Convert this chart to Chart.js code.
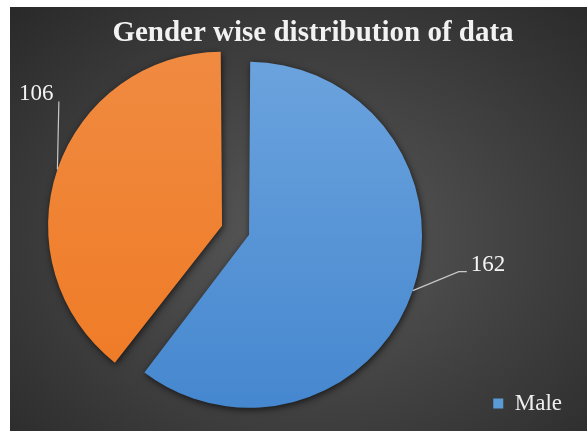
<!DOCTYPE html>
<html>
<head>
<meta charset="utf-8">
<script src="https://cdn.jsdelivr.net/npm/chart.js@4"></script>
<style>
  html, body { margin: 0; padding: 0; background: #fff; overflow: hidden; }
  .frame {
    position: absolute; left: 10px; top: 7px; width: 577px; height: 424px; overflow: hidden;
    background: radial-gradient(ellipse at 52% 55%, #5a5a5a 0%, #414141 50%, #292929 100%);
  }
  .chart-box { position: absolute; left: 0; top: -20px; width: 577px; height: 492px; }
</style>
</head>
<body>
<div class="frame"><div class="chart-box"><canvas id="genderChart"></canvas></div></div>
<script>
// data
const genders = ['Male', 'Female'];
const counts = [162, 106];

// [light, dark] fill per slice
const sliceColors = [['#6aa2dd', '#4587cf'], ['#f08a40', '#ef7a24']];
const flatColors = ['#5b9bd5', '#ed7d31'];
const serif = "'Liberation Serif', 'Times New Roman', serif";

// leader line + label placement, relative to the point on the slice edge
const labelPlacement = [
    { elbow: [46, -19], end: [54, -19], text: [58, -20], align: 'left' },
    { elbow: [1.5, -68], end: [1.5, -68], text: [-4, -70], align: 'right' }
];

function sliceFill(context) {
    const chart = context.chart;
    const area = chart.chartArea;
    const pair = sliceColors[context.dataIndex] || sliceColors[0];
    if (!area) return pair[0];
    const g = chart.ctx.createLinearGradient(0, area.top + 80, 0, area.bottom - 70);
    g.addColorStop(0, pair[0]);
    g.addColorStop(1, pair[1]);
    return g;
}

// Excel-like outer shadow round the slices
const sliceShadow = {
    id: 'sliceShadow',
    beforeDatasetsDraw(chart) {
        const ctx = chart.ctx;
        ctx.save();
        ctx.shadowColor = 'rgba(0, 0, 0, 0.65)';
        ctx.shadowBlur = 7;
        ctx.shadowOffsetX = 1;
        ctx.shadowOffsetY = 2;
    },
    afterDatasetsDraw(chart) {
        chart.ctx.restore();
    }
};

// value labels with leader lines
const leaderLabels = {
    id: 'leaderLabels',
    afterDatasetsDraw(chart) {
        const ctx = chart.ctx;
        const meta = chart.getDatasetMeta(0);
        ctx.save();
        ctx.strokeStyle = '#c8c8c8';
        ctx.lineWidth = 1.2;
        ctx.fillStyle = '#f4f4f4';
        ctx.font = '23px ' + serif;
        ctx.textBaseline = 'alphabetic';
        meta.data.forEach((arc, i) => {
            const p = arc.getProps(['x', 'y', 'startAngle', 'endAngle', 'outerRadius', 'circumference'], true);
            const mid = (p.startAngle + p.endAngle) / 2;
            // same shift / radius growth the arc element applies for its offset
            const shift = (arc.options.offset || 0) / 4;
            const fix = 1 - Math.sin(Math.min(Math.PI, p.circumference));
            const r = p.outerRadius + shift * fix + shift;
            const ax = p.x + Math.cos(mid) * r;
            const ay = p.y + Math.sin(mid) * r;
            const place = labelPlacement[i];
            ctx.beginPath();
            ctx.moveTo(ax, ay);
            ctx.lineTo(ax + place.elbow[0], ay + place.elbow[1]);
            ctx.lineTo(ax + place.end[0], ay + place.end[1]);
            ctx.stroke();
            ctx.textAlign = place.align;
            ctx.fillText(String(counts[i]), ax + place.text[0], ay + place.text[1]);
        });
        ctx.restore();
    }
};

const ctx = document.getElementById('genderChart').getContext('2d');
new Chart(ctx, {
    type: 'pie',
    data: {
        labels: genders,
        datasets: [{
            data: counts,
            backgroundColor: sliceFill,
            borderWidth: 0,
            offset: [29.2, 84.8],
            clip: false
        }]
    },
    options: {
        responsive: true,
        maintainAspectRatio: false,
        animation: false,
        events: [],
        radius: 165.7,
        layout: { padding: { left: 44, right: 15, top: 0, bottom: 1 } },
        plugins: {
            title: {
                display: true,
                text: 'Gender wise distribution of data',
                color: '#f2f2f2',
                font: { family: serif, size: 29, weight: 'bold' },
                padding: { top: 28.9, bottom: -64 }
            },
            legend: {
                position: 'right',
                align: 'end',
                labels: {
                    boxWidth: 10,
                    boxHeight: 10,
                    padding: 63,
                    color: '#eeeeee',
                    font: { family: serif, size: 23 },
                    generateLabels(chart) {
                        const items = Chart.overrides.pie.plugins.legend.labels.generateLabels(chart);
                        items.forEach(item => {
                            item.fillStyle = flatColors[item.index];
                            item.strokeStyle = flatColors[item.index];
                            item.lineWidth = 0;
                        });
                        return items;
                    },
                    // only the first entry is inside the picture
                    filter: item => item.index === 0
                }
            },
            tooltip: { enabled: false }
        }
    },
    plugins: [sliceShadow, leaderLabels]
});
</script>
</body>
</html>
